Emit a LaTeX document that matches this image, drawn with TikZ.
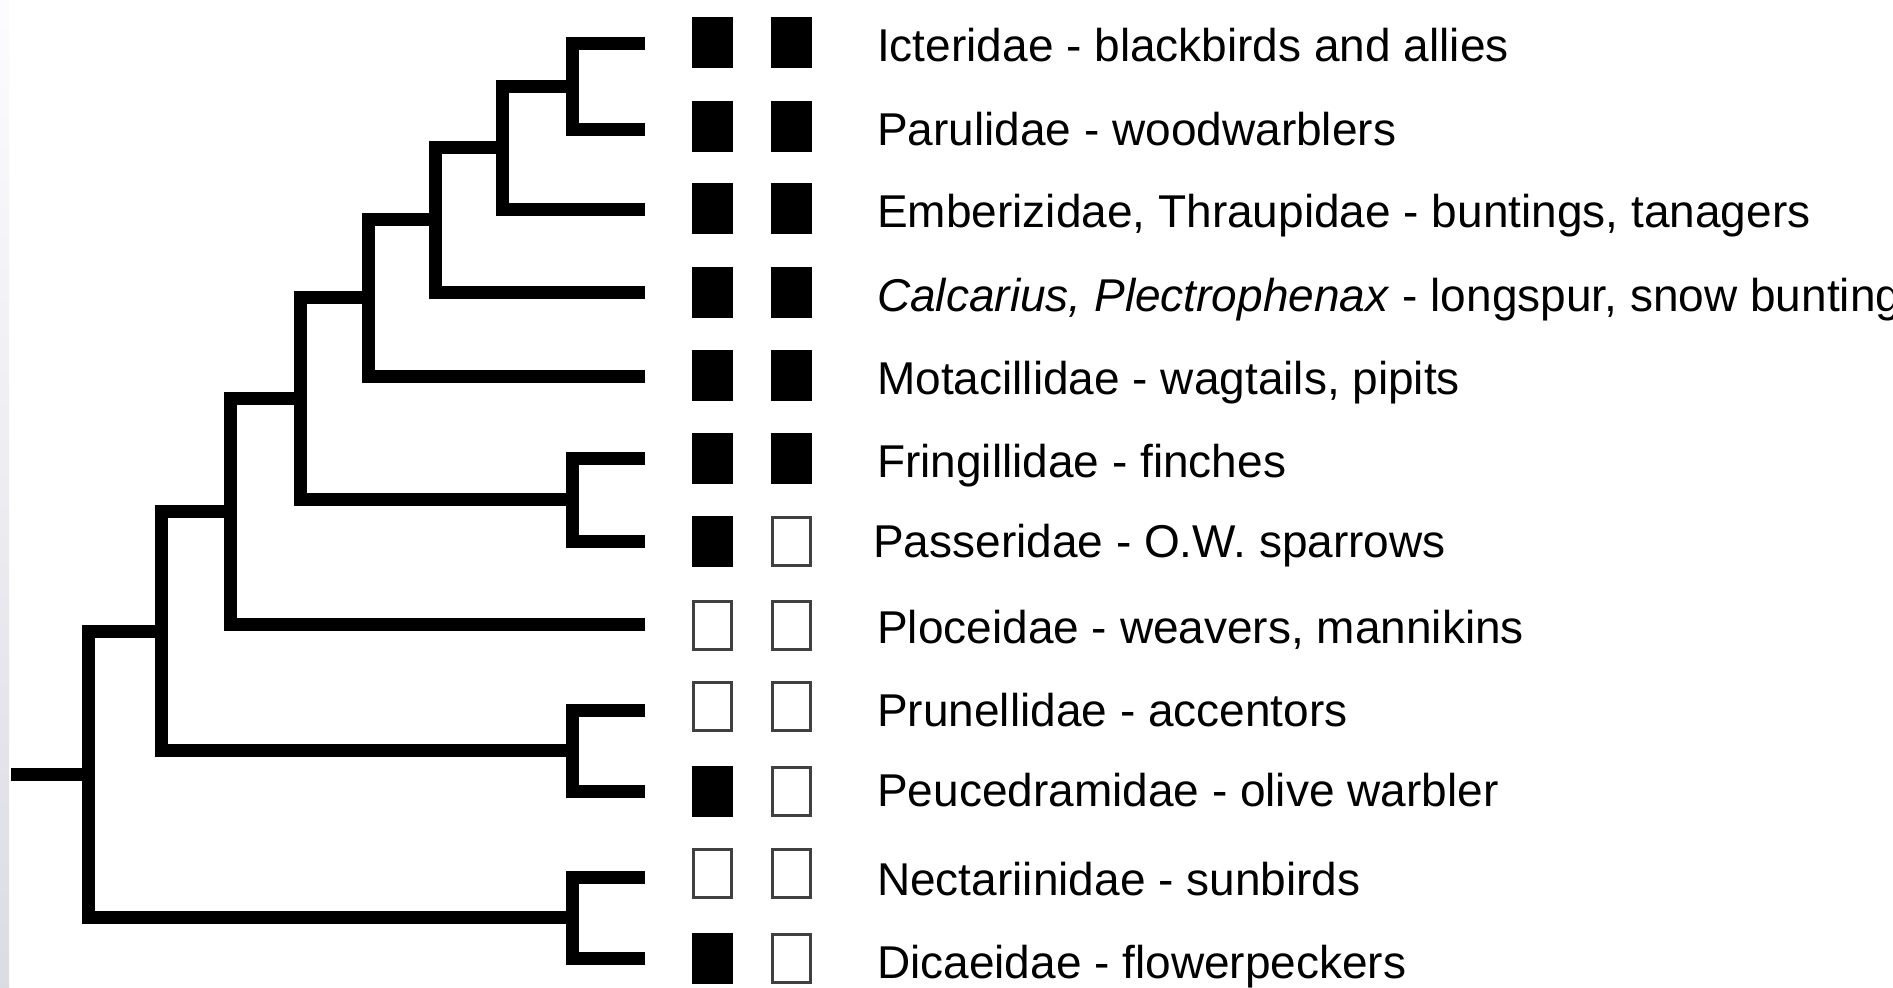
\documentclass[tikz,border=0pt]{standalone}
\usepackage{fontspec}
\setmainfont{Liberation Sans}
\begin{document}
\begin{tikzpicture}[x=1pt,y=-1pt,
  branch/.style={line width=13pt,line cap=butt,line join=miter,draw=black},
  fullbox/.style={draw=black,fill=black,line width=2pt,minimum width=39pt,minimum height=49pt,inner sep=0pt},
  emptybox/.style={draw=black!75,fill=white,line width=3pt,minimum width=38pt,minimum height=48pt,inner sep=0pt},
  lab/.style={anchor=base west,inner sep=0pt,font=\fontsize{46}{55}\selectfont,text=black}]
\useasboundingbox (0,0) rectangle (1893,988);
\clip (0,0) rectangle (1893,988);
\fill[white] (0,0) rectangle (1893,988);
\shade[top color=white!90!blue!10,bottom color=blue!12!gray!25] (0,0) rectangle (9,988);
% leaf ends
\coordinate (l1) at (645,43);
\coordinate (l2) at (645,129);
\coordinate (l3) at (645,209);
\coordinate (l4) at (645,292);
\coordinate (l5) at (645,376);
\coordinate (l6) at (645,458);
\coordinate (l7) at (645,541);
\coordinate (l8) at (645,624);
\coordinate (l9) at (645,710);
\coordinate (l10) at (645,791);
\coordinate (l11) at (645,877);
\coordinate (l12) at (645,958);
% internal nodes
\coordinate (nA) at (572,86);
\coordinate (nB) at (502,147);
\coordinate (nC) at (435,219);
\coordinate (nD) at (368,297);
\coordinate (nE) at (572,499);
\coordinate (nF) at (300,398);
\coordinate (nG) at (230,511);
\coordinate (nH) at (572,750);
\coordinate (nI) at (161,631);
\coordinate (nJ) at (572,917);
\coordinate (nR) at (88,774);
\coordinate (start) at (11,774);
% branches
\draw[branch] (l1) -| (nA) |- (l2);
\draw[branch] (nA) -| (nB) |- (l3);
\draw[branch] (nB) -| (nC) |- (l4);
\draw[branch] (nC) -| (nD) |- (l5);
\draw[branch] (l6) -| (nE) |- (l7);
\draw[branch] (nD) -| (nF) |- (nE);
\draw[branch] (nF) -| (nG) |- (l8);
\draw[branch] (l9) -| (nH) |- (l10);
\draw[branch] (nG) -| (nI) |- (nH);
\draw[branch] (l11) -| (nJ) |- (l12);
\draw[branch] (nI) -| (nR) |- (nJ);
\draw[branch] (start) -- (nR);
% character boxes
\node[fullbox] (a1) at (712.5,42) {};
\node[fullbox] (b1) at (791.5,42) {};
\node[fullbox] (a2) at (712.5,126) {};
\node[fullbox] (b2) at (791.5,126) {};
\node[fullbox] (a3) at (712.5,208) {};
\node[fullbox] (b3) at (791.5,208) {};
\node[fullbox] (a4) at (712.5,292) {};
\node[fullbox] (b4) at (791.5,292) {};
\node[fullbox] (a5) at (712.5,375) {};
\node[fullbox] (b5) at (791.5,375) {};
\node[fullbox] (a6) at (712.5,458) {};
\node[fullbox] (b6) at (791.5,458) {};
\node[fullbox] (a7) at (712.5,541) {};
\node[emptybox] (b7) at (791.5,541) {};
\node[emptybox] (a8) at (712.5,625) {};
\node[emptybox] (b8) at (791.5,625) {};
\node[emptybox] (a9) at (712.5,706) {};
\node[emptybox] (b9) at (791.5,706) {};
\node[fullbox] (a10) at (712.5,791) {};
\node[emptybox] (b10) at (791.5,791) {};
\node[emptybox] (a11) at (712.5,873) {};
\node[emptybox] (b11) at (791.5,873) {};
\node[fullbox] (a12) at (712.5,958) {};
\node[emptybox] (b12) at (791.5,958) {};
% labels
\node[lab] (t1) at (877,61) {Icteridae - blackbirds and allies};
\node[lab] (t2) at (877,145) {Parulidae - woodwarblers};
\node[lab] (t3) at (877,227) {Emberizidae, Thraupidae - buntings, tanagers};
\node[lab] (t4) at (877,311) {\textit{Calcarius, Plectrophenax} - longspur, snow bunting};
\node[lab] (t5) at (877,394) {Motacillidae - wagtails, pipits};
\node[lab] (t6) at (877,477) {Fringillidae - finches};
\node[lab] (t7) at (873,557) {Passeridae - O.W. sparrows};
\node[lab] (t8) at (877,643) {Ploceidae - weavers, mannikins};
\node[lab] (t9) at (877,726) {Prunellidae - accentors};
\node[lab] (t10) at (877,806) {Peucedramidae - olive warbler};
\node[lab] (t11) at (877,895) {Nectariinidae - sunbirds};
\node[lab] (t12) at (877,978) {Dicaeidae - flowerpeckers};
\end{tikzpicture}
\end{document}
